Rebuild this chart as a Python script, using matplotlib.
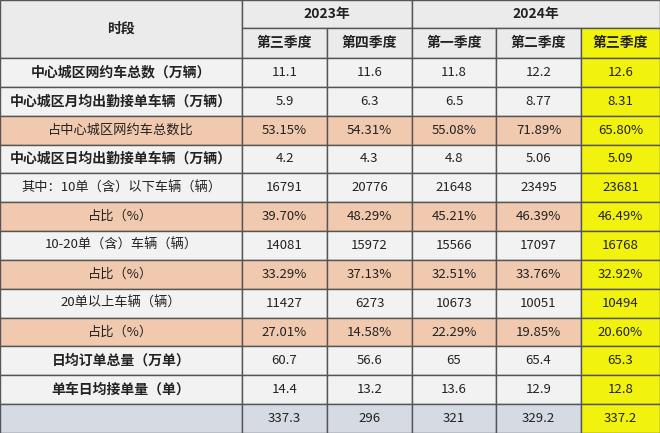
import matplotlib
matplotlib.use("Agg")
import matplotlib.pyplot as plt
from matplotlib.patches import Rectangle

years = ["2023年", "2024年"]
quarters = ["第三季度", "第四季度", "第一季度", "第二季度", "第三季度"]
row_labels = ["中心城区网约车总数（万辆）", "中心城区月均出勤接单车辆（万辆）", "占中心城区网约车总数比",
              "中心城区日均出勤接单车辆（万辆）", "其中：10单（含）以下车辆（辆）", "占比（%）",
              "10-20单（含）车辆（辆）", "占比（%）", "20单以上车辆（辆）", "占比（%）",
              "日均订单总量（万单）", "单车日均接单量（单）", ""]
values = [
    ["11.1", "11.6", "11.8", "12.2", "12.6"],
    ["5.9", "6.3", "6.5", "8.77", "8.31"],
    ["53.15%", "54.31%", "55.08%", "71.89%", "65.80%"],
    ["4.2", "4.3", "4.8", "5.06", "5.09"],
    ["16791", "20776", "21648", "23495", "23681"],
    ["39.70%", "48.29%", "45.21%", "46.39%", "46.49%"],
    ["14081", "15972", "15566", "17097", "16768"],
    ["33.29%", "37.13%", "32.51%", "33.76%", "32.92%"],
    ["11427", "6273", "10673", "10051", "10494"],
    ["27.01%", "14.58%", "22.29%", "19.85%", "20.60%"],
    ["60.7", "56.6", "65", "65.4", "65.3"],
    ["14.4", "13.2", "13.6", "12.9", "12.8"],
    ["337.3", "296", "321", "329.2", "337.2"],
]
bold_rows = {0, 1, 3, 10, 11}
orange_rows = {2, 5, 7, 9}

W, H = 660, 433
fig = plt.figure(figsize=(6.6, 4.33), dpi=100)
ax = fig.add_axes([0, 0, 1, 1])
ax.set_xlim(0, W); ax.set_ylim(H, 0); ax.axis("off")
font = "Noto Sans CJK SC"
cols = [0, 242, 327, 412, 496, 581, 660]
rh = (H - 58) / len(row_labels)
lc = "#555555"

def cell(x0, x1, y0, y1, fc, text="", bold=False, size=10):
    ax.add_patch(Rectangle((x0, y0), x1 - x0, y1 - y0, facecolor=fc, edgecolor=lc, lw=1))
    if text:
        ax.text((x0 + x1) / 2, (y0 + y1) / 2, text, ha="center", va="center",
                fontfamily=font, fontweight="bold" if bold else "normal", fontsize=size, color="#222222")

hdr = "#ebebeb"
cell(0, 242, 0, 58, hdr, "时段", True, 10)
cell(242, 412, 0, 28, hdr, years[0], True, 10)
cell(412, 660, 0, 28, hdr, years[1], True, 10)
for i, q in enumerate(quarters):
    cell(cols[i + 1], cols[i + 2], 28, 58, "#f2f20f" if i == 4 else hdr, q, True, 10)

for r, lab in enumerate(row_labels):
    y0 = 58 + r * rh; y1 = y0 + rh
    if r in orange_rows:
        base = "#f1c9ae"
    elif r == len(row_labels) - 1:
        base = "#d5dae3"
    else:
        base = "#f2f2f2"
    b = r in bold_rows
    cell(0, 242, y0, y1, base, lab, b, 10 if b else 9.5)
    for c in range(5):
        fc = "#f2f20f" if c == 4 else base
        cell(cols[c + 1], cols[c + 2], y0, y1, fc, values[r][c], False, 9.5)

fig.savefig("out.png", dpi=100)
